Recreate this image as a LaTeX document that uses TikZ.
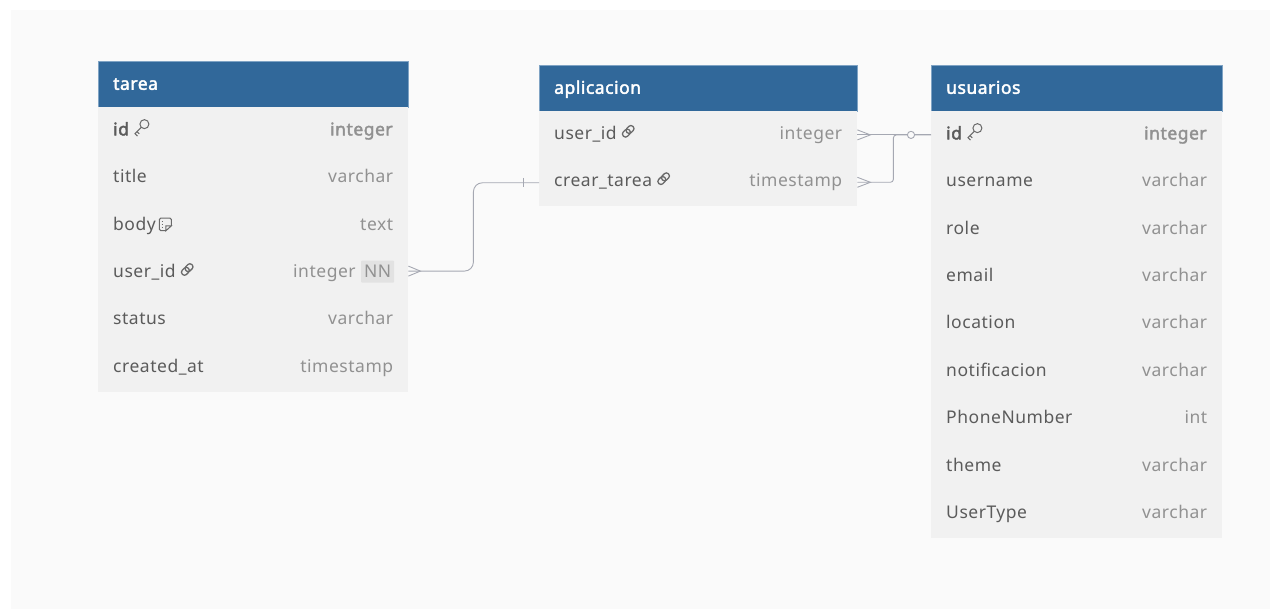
\documentclass[tikz,border=0pt]{standalone}
\usepackage{fontspec}
\setmainfont{Noto Sans}[AutoFakeBold=2.2, LetterSpace=3]
\definecolor{panel}{HTML}{FAFAFA}
\definecolor{hdrblue}{HTML}{31689A}
\definecolor{hdredge}{HTML}{7FA3C4}
\definecolor{rowbg}{HTML}{F1F1F1}
\definecolor{fieldtxt}{HTML}{5B5B5B}
\definecolor{typetxt}{HTML}{919191}
\definecolor{wire}{HTML}{A5A8B2}
\definecolor{badge}{HTML}{E2E2E2}
\definecolor{icon}{HTML}{6A6A6A}
\tikzset{
  hdr/.style={fill=hdrblue, draw=hdredge, line width=0.6pt, minimum height=46pt,
    inner sep=0pt, anchor=north west},
  hdrtext/.style={text=white, font=\fontsize{17.5}{20}\selectfont\bfseries, inner sep=0pt, anchor=base west},
  rowbox/.style={fill=rowbg, minimum height=47.4pt, inner sep=0pt, anchor=north west},
  fname/.style={text=fieldtxt, inner sep=0pt, anchor=base west},
  ftype/.style={text=typetxt, inner sep=0pt, anchor=base east},
  wireline/.style={draw=wire, line width=0.9pt},
  nnbadge/.style={fill=badge, text=typetxt, inner sep=3pt, minimum height=22pt, rounded corners=1pt},
}
% outline key symbol
\newcommand\keyicon{\hspace{5pt}\tikz[baseline=0pt, x=1.25pt, y=1.25pt, line width=1pt, draw=icon]{
  \draw (8.5,9) circle (3.6);
  \draw (6,6.4) -- (1,1.4) -- (3,-0.6);
  \draw (2.6,3) -- (4.4,1.2);}}
% chain link symbol
\newcommand\linkicon{\hspace{4pt}\tikz[baseline=0pt, x=1.35pt, y=1.35pt, line width=1.3pt, draw=icon]{
  \draw[rounded corners=2.6pt, rotate around={45:(6,6)}] (1,3.8) rectangle (7.2,8.2);
  \draw[rounded corners=2.6pt, rotate around={45:(6,6)}] (4.8,3.8) rectangle (11,8.2);}}
% note symbol
\newcommand\noteicon{\hspace{3pt}\tikz[baseline=0pt, x=1.1pt, y=1.1pt, line width=1pt, draw=icon]{
  \draw[rounded corners=1.5pt] (7,-0.5) -- (1,-0.5) -- (1,11) -- (12,11) -- (12,4);
  \draw (12,4) -- (7,-0.5) -- (7,4) -- cycle;
  \draw (3,8.2) -- (4,8.2) (3,5.5) -- (4,5.5) (3,2.8) -- (4,2.8);}}
% table header: node name, title, left, top, width
\newcommand\erdheader[5]{%
  \node[hdr, minimum width=#5] (#1) at (#3,#4) {};
  \node[hdrtext] at ([xshift=15pt, yshift=-5.5pt]#1.west) {#2};}
% table row: node name, left, top, width, field, type
\newcommand\erdrow[6]{%
  \node[rowbox, minimum width=#4] (#1) at (#2,#3) {};
  \node[fname] at ([xshift=15pt, yshift=-4.5pt]#1.west) {#5};
  \node[ftype] at ([xshift=-15pt, yshift=-4.5pt]#1.east) {#6};}
\begin{document}
\begin{tikzpicture}[x=1pt, y=-1pt, font=\fontsize{17.5}{20}\selectfont]
\useasboundingbox (0,0) rectangle (1270,609);
\fill[white] (0,0) rectangle (1270,609);
\fill[panel] (11,10) rectangle (1270,609);

% table tarea
\erdheader{tarea}{tarea}{98}{61}{310}
\erdrow{tarea-id}{98}{107}{310}{\textbf{id}\keyicon}{\textbf{integer}}
\erdrow{tarea-title}{98}{154.4}{310}{title}{varchar}
\erdrow{tarea-body}{98}{201.8}{310}{body\noteicon}{text}
\erdrow{tarea-userid}{98}{249.2}{310}{user\_id\linkicon}{}
\erdrow{tarea-status}{98}{296.6}{310}{status}{varchar}
\erdrow{tarea-created}{98}{344}{310}{created\_at}{timestamp}
\node[nnbadge, anchor=east] (nn) at ([xshift=-14pt, yshift=1.5pt]tarea-userid.east) {NN};
\node[ftype] at ([xshift=-5pt, yshift=-6pt]nn.west) {integer};

% table aplicacion
\erdheader{aplicacion}{aplicacion}{539}{65}{318}
\erdrow{aplic-userid}{539}{111}{318}{user\_id\linkicon}{integer}
\erdrow{aplic-crear}{539}{158.4}{318}{crear\_tarea\linkicon}{timestamp}

% table usuarios
\erdheader{usuarios}{usuarios}{931}{65}{291}
\erdrow{usr-id}{931}{111}{291}{\textbf{id}\keyicon}{\textbf{integer}}
\erdrow{usr-username}{931}{158.4}{291}{username}{varchar}
\erdrow{usr-role}{931}{205.8}{291}{role}{varchar}
\erdrow{usr-email}{931}{253.2}{291}{email}{varchar}
\erdrow{usr-location}{931}{300.6}{291}{location}{varchar}
\erdrow{usr-notif}{931}{348}{291}{notificacion}{varchar}
\erdrow{usr-phone}{931}{395.4}{291}{PhoneNumber}{int}
\erdrow{usr-theme}{931}{442.8}{291}{theme}{varchar}
\erdrow{usr-type}{931}{490.2}{291}{UserType}{varchar}

% tarea.user_id  >--+  aplicacion.crear_tarea
\draw[wireline, rounded corners=9pt] ([yshift=2pt]tarea-userid.east) -- ++(65,0) |- ([yshift=-0.5pt]aplic-crear.west);
\draw[wireline] ([yshift=7pt]tarea-userid.east) -- ++(12,5) -- ++(-12,5);
\draw[wireline] ([xshift=-16pt, yshift=4.5pt]aplic-crear.west) -- ++(0,9);

% aplicacion.user_id  >--o  usuarios.id
\draw[wireline] (aplic-userid.east) -- (usr-id.west);
\draw[wireline] ([yshift=5pt]aplic-userid.east) -- ++(13,5) -- ++(-13,5);

% aplicacion.crear_tarea  >--o  usuarios.id
\draw[wireline, rounded corners=3pt] (aplic-crear.east) -- ++(36,0) |- (usr-id.west);
\draw[wireline] ([yshift=5pt]aplic-crear.east) -- ++(13,5) -- ++(-13,5);
\draw[wireline, fill=panel] ([xshift=-20pt]usr-id.west) circle (3.6);
\end{tikzpicture}
\end{document}
